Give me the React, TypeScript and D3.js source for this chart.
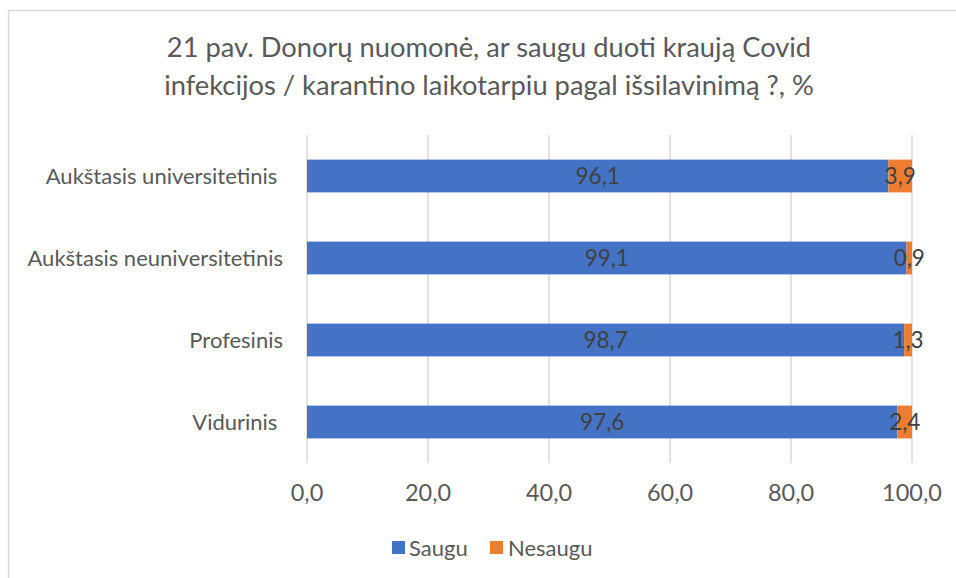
import React from "react";
import * as d3 from "d3";

const WIDTH = 956;
const HEIGHT = 578;
const FONT = "Lato, 'Open Sans', sans-serif";

// chart values
const categories = [
  "Aukštasis universitetinis ",
  "Aukštasis neuniversitetinis",
  "Profesinis",
  "Vidurinis ",
];
const saugu = [96.1, 99.1, 98.7, 97.6];
const nesaugu = [3.9, 0.9, 1.3, 2.4];
const xTicks = [0, 20, 40, 60, 80, 100];
const titleLines = [
  "21 pav. Donorų nuomonė, ar saugu duoti kraują Covid",
  "infekcijos / karantino laikotarpiu pagal išsilavinimą ?, %",
];
const seriesNames = ["Saugu", "Nesaugu"];
const colors = ["#4472C4", "#ED7D31"];

const plot = { left: 307, right: 912, top: 135, bottom: 463 };

const fmt = (v: number) => d3.format(".1f")(v).replace(".", ",");

export default function App() {
  const x = d3.scaleLinear().domain([0, 100]).range([plot.left, plot.right]);
  const y = d3
    .scaleBand<string>()
    .domain(categories)
    .range([plot.top, plot.bottom])
    .paddingInner(0.6)
    .paddingOuter(0.3);

  const rows = categories.map((c, i) => ({
    cat: c,
    segs: [
      { x0: 0, x1: saugu[i], v: saugu[i], color: colors[0] },
      { x0: saugu[i], x1: saugu[i] + nesaugu[i], v: nesaugu[i], color: colors[1] },
    ],
  }));

  return (
    <svg
      width={WIDTH}
      height={HEIGHT}
      style={{ position: "absolute", left: 0, top: 0, background: "#fff" }}
      fontFamily={FONT}
    >
      <rect x={8.5} y={10.5} width={1000} height={1000} fill="#fff" stroke="#D9D9D9" strokeWidth={1.5} />

      {/* title */}
      {titleLines.map((t, i) => (
        <text
          key={i}
          x={489}
          y={57 + i * 38}
          textAnchor="middle"
          fontSize={27.3}
          fill="#595959"
        >
          {t}
        </text>
      ))}

      {/* gridlines */}
      {xTicks.map((t) => (
        <line
          key={t}
          x1={x(t)}
          x2={x(t)}
          y1={plot.top}
          y2={plot.bottom}
          stroke="#D9D9D9"
          strokeWidth={1.5}
        />
      ))}

      {/* bars */}
      {rows.map((r) =>
        r.segs.map((s, j) => (
          <rect
            key={r.cat + j}
            x={x(s.x0)}
            y={y(r.cat)}
            width={x(s.x1) - x(s.x0)}
            height={y.bandwidth()}
            fill={s.color}
          />
        ))
      )}

      {/* data labels */}
      {rows.map((r) =>
        r.segs.map((s, j) => (
          <text
            key={"l" + r.cat + j}
            x={(x(s.x0) + x(s.x1)) / 2}
            y={(y(r.cat) as number) + y.bandwidth() / 2}
            dy="0.35em"
            textAnchor="middle"
            fontSize={22.5}
            fill="#404040"
          >
            {fmt(s.v)}
          </text>
        ))
      )}

      {/* category labels */}
      {categories.map((c) => (
        <text
          key={c}
          x={283}
          y={(y(c) as number) + y.bandwidth() / 2}
          dy="0.35em"
          textAnchor="end"
          fontSize={22}
          fill="#595959"
          style={{ whiteSpace: "pre" }}
        >
          {c}
        </text>
      ))}

      {/* x tick labels */}
      {xTicks.map((t) => (
        <text key={"t" + t} x={x(t)} y={501} textAnchor="middle" fontSize={23.5} fill="#595959">
          {fmt(t)}
        </text>
      ))}

      {/* legend */}
      <g transform="translate(392,541)">
        <rect x={0} y={0} width={13} height={13} fill={colors[0]} />
        <text x={17} y={14.5} fontSize={22} fill="#595959">
          {seriesNames[0]}
        </text>
        <rect x={98} y={0} width={13} height={13} fill={colors[1]} />
        <text x={116} y={14.5} fontSize={22} fill="#595959">
          {seriesNames[1]}
        </text>
      </g>
    </svg>
  );
}
